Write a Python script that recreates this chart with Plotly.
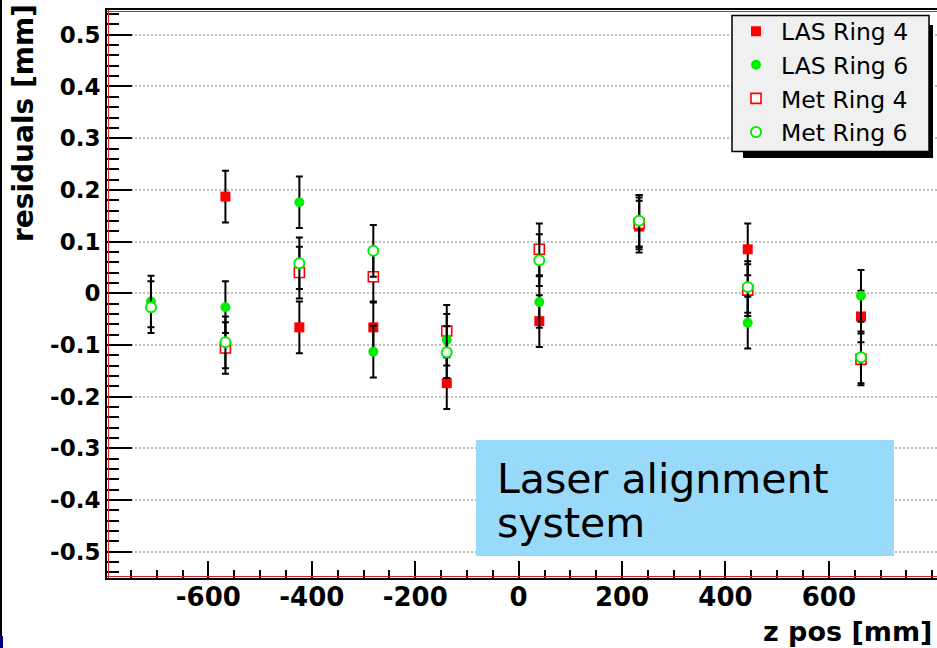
import plotly.graph_objects as go

# ---- data ----
z_pos = [-711, -567, -424, -281, -139, 40, 233, 443, 662]
las_ring4 = [None, 0.187, -0.066, -0.066, -0.174, -0.054, 0.129, 0.085, -0.045]
las_ring6 = [-0.016, -0.027, 0.176, -0.113, -0.090, -0.017, 0.140, -0.057, -0.005]
met_ring4 = [None, -0.106, 0.040, 0.032, -0.073, 0.085, 0.135, 0.006, -0.128]
met_ring6 = [-0.027, -0.095, 0.058, 0.082, -0.114, 0.064, 0.140, 0.012, -0.124]
err = 0.05

x_ticks = [-600, -400, -200, 0, 200, 400, 600]
x_ticktext = ["-600", "-400", "-200", "0", "200", "400", "600"]
y_ticks = [0.5, 0.4, 0.3, 0.2, 0.1, 0, -0.1, -0.2, -0.3, -0.4, -0.5]
y_ticktext = ["0.5", "0.4", "0.3", "0.2", "0.1", "0", "-0.1", "-0.2", "-0.3", "-0.4", "-0.5"]

W, H = 937, 648
L, R, T, B = 107, 0, 10, 70
PW, PH = W - L - R, H - T - B


def px_x(px):
    return (px - L) / PW


def px_y(py):
    return (H - B - py) / PH


RED = "#ff0000"
GREEN = "#00ee00"

fig = go.Figure()

eb = dict(type="constant", value=err, color="black", thickness=2, width=3.5)

series = [
    ("LAS Ring 4", las_ring4, dict(symbol="square", size=10, color=RED, line=dict(width=0)), 1),
    ("Met Ring 4", met_ring4, dict(symbol="square", size=10, color="white", line=dict(width=1.6, color=RED)), 3),
    ("LAS Ring 6", las_ring6, dict(symbol="circle", size=10, color=GREEN, line=dict(width=0)), 2),
    ("Met Ring 6", met_ring6, dict(symbol="circle", size=10, color="white", line=dict(width=2, color=GREEN)), 4),
]
for name, vals, marker, rank in series:
    fig.add_trace(go.Scatter(
        x=z_pos, y=vals, mode="markers", name=name, marker=marker,
        error_y=eb, legendrank=rank, cliponaxis=False,
    ))

tick_font_y = dict(family="DejaVu Sans", size=23, color="black", weight="bold")
tick_font_x = dict(family="DejaVu Sans", size=26, color="black", weight="bold")

fig.update_xaxes(
    range=[-796, 809], tickmode="array", tickvals=x_ticks, ticktext=x_ticktext,
    ticks="inside", ticklen=17, tickwidth=2, tickcolor="black",
    minor=dict(tick0=0, dtick=50, ticks="inside", ticklen=8, tickwidth=1.5,
               tickcolor="black", showgrid=False),
    showgrid=False, zeroline=False, showline=True, linecolor="black",
    linewidth=2, mirror=True, tickfont=tick_font_x, ticklabelstandoff=-5,
)
fig.update_yaxes(
    range=[-0.551, 0.548], tickmode="array", tickvals=y_ticks, ticktext=y_ticktext,
    ticks="inside", ticklen=25, tickwidth=2, tickcolor="black",
    minor=dict(tick0=0, dtick=0.02, ticks="inside", ticklen=12, tickwidth=1.5,
               tickcolor="black", showgrid=False),
    showgrid=True, gridcolor="#c4bbb1", gridwidth=1.5, griddash="2px,2px",
    zeroline=False, showline=True, linecolor="black", linewidth=2,
    tickfont=tick_font_y, ticklabelstandoff=0,
)

shapes = [
    # legend shadow
    dict(type="rect", xref="paper", yref="paper",
         x0=px_x(743), x1=px_x(933), y0=px_y(158), y1=px_y(25),
         fillcolor="black", line=dict(width=0), layer="above"),
    # legend box
    dict(type="rect", xref="paper", yref="paper",
         x0=px_x(732), x1=px_x(929), y0=px_y(151.5), y1=px_y(15.5),
         fillcolor="#f0f0f0", line=dict(width=1.5, color="black"), layer="above"),
    # blue info box
    dict(type="rect", xref="paper", yref="paper",
         x0=px_x(476), x1=px_x(894), y0=px_y(556), y1=px_y(440),
         fillcolor="#99d9f9", line=dict(width=0), layer="above"),
    # thin red inner frame
    dict(type="line", xref="paper", yref="paper", x0=px_x(108.5), x1=px_x(108.5),
         y0=0, y1=1, line=dict(color="#d02020", width=1), layer="above"),
    dict(type="line", xref="paper", yref="paper", x0=0, x1=1,
         y0=px_y(576.5), y1=px_y(576.5), line=dict(color="#d02020", width=1), layer="above"),
    dict(type="line", xref="paper", yref="paper", x0=0, x1=1,
         y0=px_y(11.5), y1=px_y(11.5), line=dict(color="#d02020", width=1), layer="above"),
    # slide border on the left
    dict(type="line", xref="paper", yref="paper", x0=px_x(1), x1=px_x(1),
         y0=px_y(0), y1=px_y(636), line=dict(color="black", width=2), layer="above"),
    dict(type="line", xref="paper", yref="paper", x0=px_x(1.5), x1=px_x(1.5),
         y0=px_y(636), y1=px_y(648), line=dict(color="#000080", width=3), layer="above"),
]

annotations = [
    dict(text="residuals [mm]", textangle=-90, xref="paper", yref="paper",
         x=px_x(23), y=px_y(123), xanchor="center", yanchor="middle",
         showarrow=False, font=dict(family="DejaVu Sans", size=28, color="black", weight="bold")),
    dict(text="z pos [mm]", xref="paper", yref="paper",
         x=px_x(934), y=px_y(631), xanchor="right", yanchor="middle",
         showarrow=False, font=dict(family="DejaVu Sans", size=27, color="black", weight="bold")),
    dict(text="Laser alignment", xref="paper", yref="paper",
         x=px_x(495), y=px_y(479), xanchor="left", yanchor="middle",
         showarrow=False, font=dict(family="DejaVu Sans", size=41, color="black")),
    dict(text="system", xref="paper", yref="paper",
         x=px_x(495), y=px_y(523), xanchor="left", yanchor="middle",
         showarrow=False, font=dict(family="DejaVu Sans", size=41, color="black")),
]

fig.update_layout(
    width=W, height=H, autosize=False,
    margin=dict(l=L, r=R, t=T, b=B),
    paper_bgcolor="white", plot_bgcolor="white",
    showlegend=True,
    legend=dict(
        x=px_x(731), y=px_y(9.5), xanchor="left", yanchor="top",
        bgcolor="rgba(0,0,0,0)", borderwidth=0, itemwidth=40,
        font=dict(family="DejaVu Sans", size=23.5, color="black"),
        traceorder="normal",
    ),
    shapes=shapes, annotations=annotations,
)

fig.write_html("out.html")
